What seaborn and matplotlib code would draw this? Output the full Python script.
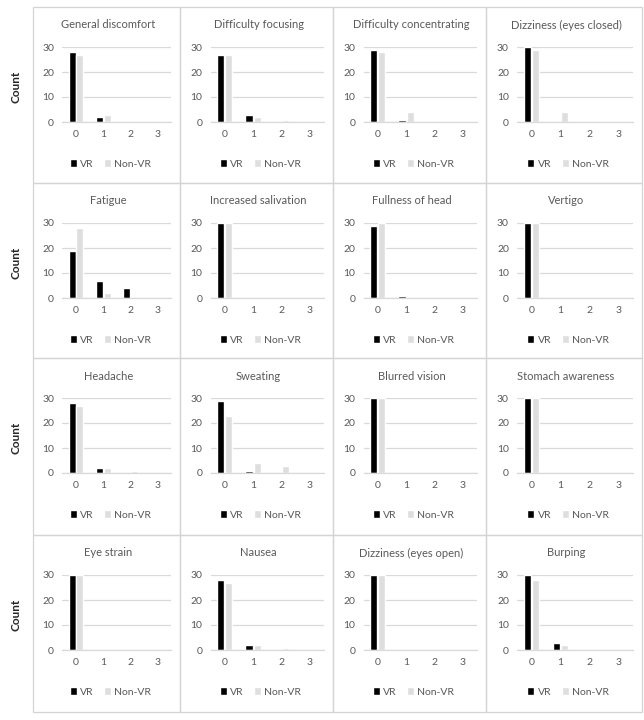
import matplotlib
matplotlib.use("Agg")
import matplotlib.pyplot as plt
from matplotlib.patches import Rectangle
import seaborn as sns
import pandas as pd

# ---- data ----
symptoms = [
    "General discomfort", "Difficulty focusing", "Difficulty concentrating", "Dizziness (eyes closed)",
    "Fatigue", "Increased salivation", "Fullness of head", "Vertigo",
    "Headache", "Sweating", "Blurred vision", "Stomach awareness",
    "Eye strain", "Nausea", "Dizziness (eyes open)", "Burping",
]
scores = ["0", "1", "2", "3"]
groups = ["VR", "Non-VR"]
vr_counts = [
    [28, 2, 0, 0], [27, 3, 0, 0], [29, 1, 0, 0], [30, 0, 0, 0],
    [19, 7, 4, 0], [30, 0, 0, 0], [29, 1, 0, 0], [30, 0, 0, 0],
    [28, 2, 0, 0], [29, 1, 0, 0], [30, 0, 0, 0], [30, 0, 0, 0],
    [30, 0, 0, 0], [28, 2, 0, 0], [30, 0, 0, 0], [30, 3, 0, 0],
]
nonvr_counts = [
    [27, 3, 0, 0], [27, 2, 1, 0], [28, 4, 0, 0], [29, 4, 0, 0],
    [28, 2, 0, 0], [30, 0, 0, 0], [30, 0, 0, 0], [30, 0, 0, 0],
    [27, 2, 1, 0], [23, 4, 3, 0], [30, 0, 0, 0], [30, 0, 0, 0],
    [30, 0, 0, 0], [27, 2, 1, 0], [30, 0, 0, 0], [28, 2, 0, 0],
]
y_ticks = [0, 10, 20, 30]

rows = []
for s, vr, nv in zip(symptoms, vr_counts, nonvr_counts):
    for sc, a, b in zip(scores, vr, nv):
        rows.append({"symptom": s, "score": sc, "group": "VR", "count": a})
        rows.append({"symptom": s, "score": sc, "group": "Non-VR", "count": b})
df = pd.DataFrame(rows)

# ---- style ----
sns.set_style("white")
plt.rcParams["font.family"] = ["Lato", "DejaVu Sans"]
palette = {"VR": "#000000", "Non-VR": "#dedede"}
text_col = "#595959"
grid_col = "#d9d9d9"
border_col = "#d4d4d4"

W, H = 644, 720
fig = plt.figure(figsize=(W / 100, H / 100), dpi=100)
fig.patch.set_facecolor("white")

col_edges = [33, 180, 333, 486, 642]
row_edges = [7, 183, 358, 535, 712]

for i, sym in enumerate(symptoms):
    r, c = divmod(i, 4)
    x0, x1 = col_edges[c], col_edges[c + 1]
    y0, y1 = row_edges[r], row_edges[r + 1]
    pw = x1 - x0
    # panel border
    fig.patches.append(Rectangle((x0 / W, 1 - y1 / H), pw / W, (y1 - y0) / H,
                                 transform=fig.transFigure, fill=False,
                                 edgecolor=border_col, linewidth=0.9))
    left = x0 + 0.2 * pw
    width = 0.74 * pw
    ax = fig.add_axes([left / W, 1 - (y0 + 115) / H, width / W, 75 / H])
    sub = df[df["symptom"] == sym]
    sns.barplot(data=sub, x="score", y="count", hue="group", order=scores,
                hue_order=groups, palette=palette, width=0.58, gap=0.12,
                saturation=1, errorbar=None, ax=ax, legend=False)
    ax.set_ylim(0, 30)
    ax.set_yticks(y_ticks)
    ax.set_xlabel("")
    ax.set_ylabel("")
    ax.yaxis.grid(True, color=grid_col, linewidth=0.9)
    ax.set_axisbelow(True)
    for sp in ["top", "right", "left"]:
        ax.spines[sp].set_visible(False)
    ax.spines["bottom"].set_color(grid_col)
    ax.spines["bottom"].set_linewidth(0.9)
    ax.tick_params(length=0, labelsize=7.5, colors=text_col, pad=6)
    ax.set_facecolor("none")
    # title
    fig.text((x0 + pw / 2 + 2) / W, 1 - (y0 + 18) / H, sym, ha="center",
             va="center", fontsize=8, color=text_col)
    # legend
    handles = [Rectangle((0, 0), 1, 1, facecolor=palette[g]) for g in groups]
    fig.legend(handles, groups, loc="center",
               bbox_to_anchor=((x0 + pw / 2 + 4) / W, 1 - (y0 + 157) / H),
               ncol=2, frameon=False, fontsize=7.5, labelcolor=text_col,
               handlelength=0.7, handleheight=0.7, handletextpad=0.3,
               columnspacing=1.0, borderpad=0)
    if c == 0:
        fig.text(16 / W, 1 - (y0 + 80) / H, "Count", rotation=90, ha="center",
                 va="center", fontsize=8.5, fontweight="bold", color="#262626")

fig.savefig("out.png", dpi=100, facecolor="white")
